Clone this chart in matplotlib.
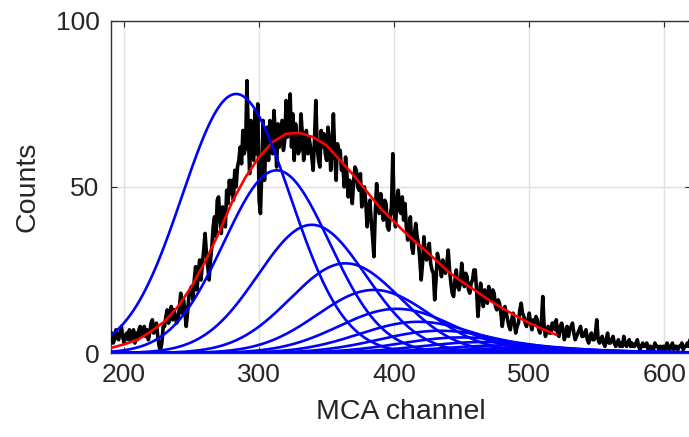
import numpy as np
import matplotlib.pyplot as plt

plt.rcParams['font.family'] = ['Liberation Sans', 'DejaVu Sans']

# measured spectrum, one value per MCA channel from 190 to 620
canal = np.arange(190, 621)
cuentas = [
    5, 6, 3, 4, 7, 5, 4, 6, 8, 5,
    3, 5, 6, 4, 7, 4, 5, 7, 3, 6,
    4, 7, 8, 5, 6, 8, 5, 7, 4, 6,
    9, 10, 6, 7, 9, 5, 2, 1, 3, 8,
    8, 11, 13, 9, 12, 14, 10, 13, 11, 9,
    10, 14, 18, 12, 16, 13, 8, 12, 17, 19,
    20, 16, 22, 26, 19, 24, 28, 22, 27, 31,
    36, 30, 26, 22, 28, 32, 38, 41, 35, 46,
    47, 40, 36, 44, 42, 38, 49, 45, 52, 48,
    52, 46, 55, 50, 56, 58, 62, 57, 67, 60,
    62, 82, 66, 54, 70, 64, 58, 73, 60, 75,
    46, 42, 55, 70, 52, 64, 68, 58, 70, 63,
    60, 73, 66, 56, 69, 62, 66, 70, 61, 64,
    76, 65, 70, 78, 62, 72, 58, 69, 64, 60,
    61, 72, 66, 58, 63, 67, 60, 65, 62, 59,
    55, 64, 76, 62, 58, 56, 67, 62, 66, 60,
    58, 68, 64, 55, 62, 72, 60, 52, 63, 61,
    61, 55, 57, 50, 59, 54, 47, 52, 49, 45,
    52, 56, 55, 50, 49, 54, 44, 47, 50, 45,
    38, 43, 46, 40, 35, 29, 42, 51, 45, 42,
    48, 44, 40, 46, 45, 38, 37, 41, 44, 60,
    42, 38, 46, 49, 43, 42, 47, 40, 45, 38,
    34, 37, 41, 32, 30, 36, 39, 35, 33, 28,
    22, 27, 35, 30, 28, 31, 33, 27, 25, 24,
    16, 22, 30, 28, 26, 23, 28, 25, 24, 27,
    31, 25, 21, 18, 17, 22, 25, 20, 19, 21,
    27, 23, 20, 24, 23, 19, 18, 21, 22, 25,
    25, 19, 11, 16, 21, 17, 14, 19, 18, 15,
    20, 17, 16, 19, 18, 14, 13, 16, 15, 12,
    8, 11, 14, 12, 10, 8, 7, 10, 12, 9,
    6, 8, 9, 13, 15, 12, 11, 9, 8, 10,
    12, 9, 7, 10, 9, 11, 10, 7, 6, 9,
    17, 8, 5, 7, 8, 6, 6, 9, 9, 7,
    10, 6, 5, 8, 9, 7, 4, 6, 8, 5,
    7, 8, 9, 6, 4, 5, 6, 7, 8, 5,
    5, 6, 7, 4, 3, 5, 6, 4, 4, 6,
    10, 4, 3, 4, 5, 3, 2, 4, 6, 3,
    3, 4, 5, 3, 2, 3, 4, 2, 3, 2,
    5, 3, 2, 3, 4, 2, 3, 2, 2, 3,
    4, 2, 1, 2, 3, 2, 2, 3, 1, 2,
    2, 1, 1, 3, 2, 2, 1, 2, 1, 2,
    2, 1, 3, 2, 1, 2, 3, 1, 2, 2,
    1, 2, 2, 3, 1, 2, 2, 3, 2, 4,
    3,
]

# total fit (red)
canal_ajuste = np.arange(190, 530, 10)
ajuste = [1.5, 2.6, 4.0, 6.5, 9.5, 14, 20, 27.5, 36, 45.5, 53, 59, 63.5, 66, 66.3, 65,
          62.5, 58, 53.5, 48.5, 43.5, 39.5, 35.5, 32, 28.3, 24.5, 21.5, 18.8, 16,
          13.5, 11.2, 9, 7.2, 5.5]

# individual gaussian components (blue): centre, height, sigma
centros = [283, 313, 339, 364, 385, 402, 418, 434, 450, 466, 482, 498, 514, 530, 546, 562]
alturas = [78, 55, 38.6, 27, 19, 13.3, 9.4, 6.7, 4.7, 3.3, 2.3, 1.6, 1.1, 0.8, 0.55, 0.4]
sigmas = [40, 39, 40, 41, 42, 43, 44, 45, 46, 47, 48, 49, 50, 51, 52, 53]

fig = plt.figure(figsize=(6.89, 4.37), dpi=100)
ax = fig.add_axes([0.1604, 0.1922, 0.843, 0.760])

ax.plot(canal, cuentas, color='black', linewidth=2.6, zorder=3)
ax.plot(canal_ajuste, ajuste, color='red', linewidth=1.9, zorder=4)

xx = np.linspace(190, 620, 600)
for c, a, s in zip(centros, alturas, sigmas):
    ax.plot(xx, a * np.exp(-(xx - c) ** 2 / (2 * s ** 2)), color='blue', linewidth=1.9, zorder=5)

ax.set_xlim(190, 620)
ax.set_ylim(0, 100)
ax.set_xticks([200, 300, 400, 500, 600])
ax.set_yticks([0, 50, 100])
ax.grid(True, color='#dfdfdf', linewidth=1.0, zorder=0)
ax.set_axisbelow(True)
ax.tick_params(direction='in', length=4, width=0.8, colors='#262626',
               labelsize=19, top=True, right=True)
ax.tick_params(axis='x', pad=7)
ax.tick_params(axis='y', pad=8)
for lado in ax.spines.values():
    lado.set_color('#333333')
    lado.set_linewidth(1.0)

ax.set_xlabel('MCA channel', fontsize=20.5, color='#262626', labelpad=9)
ax.set_ylabel('Counts', fontsize=20.5, color='#262626', labelpad=11)

fig.savefig('out.png', dpi=100)
